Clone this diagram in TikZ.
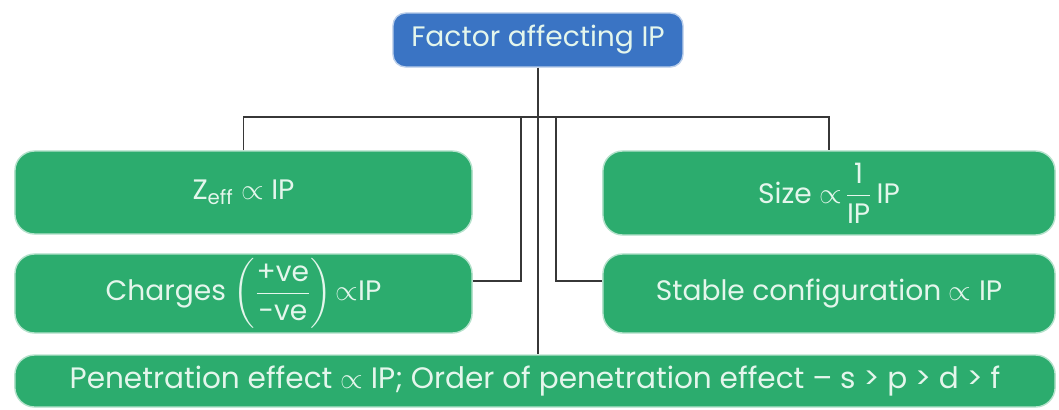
\documentclass[tikz,border=0pt]{standalone}
\usepackage{fontspec}
\usepackage{amsmath}
\setmainfont{Poppins}
\definecolor{ipblue}{RGB}{58,116,196}
\definecolor{ipgreen}{RGB}{44,172,110}
\definecolor{iptext}{RGB}{228,246,236}
\definecolor{ipline}{RGB}{55,55,55}

\begin{document}
\begin{tikzpicture}[x=0.025cm,y=-0.025cm]
\tikzstyle{every node}+=[inner sep=0pt]
\tikzstyle{head}=[fill=ipblue, draw=ipblue!35!white, line width=1pt, rounded corners=9pt, text=iptext, minimum width=7.25cm, minimum height=1.35cm, font=\fontsize{20}{23}\selectfont]
\tikzstyle{factor}=[fill=ipgreen, draw=ipgreen!35!white, line width=1pt, rounded corners=14pt, text=iptext, font=\fontsize{20}{23}\selectfont]
\tikzstyle{link}=[ipline, line width=1.1pt]
\useasboundingbox (0,0) rectangle (1059,409);
% boxes
\node [head] (top) at (538,40) {Factor affecting IP};
\node [factor, minimum width=11.425cm, minimum height=2.075cm] (zeff) at (243.5,192.5) {Z$_{\text{eff}}$ $\propto$ IP};
\node [factor, minimum width=11.425cm, minimum height=1.975cm] (charges) at (243.5,293.5) {Charges $\left(\dfrac{\text{+ve}}{\text{-ve}}\right)\!\propto$IP};
\node [factor, minimum width=11.3cm, minimum height=2.1cm] (size) at (829,193) {Size $\propto\!\dfrac{\text{1}}{\text{IP}}$\,IP};
\node [factor, minimum width=11.3cm, minimum height=1.975cm] (stable) at (829,293.5) {Stable configuration $\propto$ IP};
\node [factor, minimum width=26cm, minimum height=1.3cm, font=\fontsize{21}{24}\selectfont] (pen) at (535,381) {Penetration effect $\propto$ IP; Order of penetration effect -- s > p > d > f};
% connectors
\coordinate (bar) at (538,117);
\coordinate (cjoin) at (521,117);
\coordinate (sjoin) at (556,117);
\draw [link] (top.south) -- (top.south |- pen.north);
\draw [link] (zeff.north) -- (zeff.north |- bar) -| (size.north);
\draw [link] ([yshift=0.31cm]charges.east) -| (cjoin);
\draw [link] ([yshift=0.31cm]stable.west) -| (sjoin);
\end{tikzpicture}
\end{document}
